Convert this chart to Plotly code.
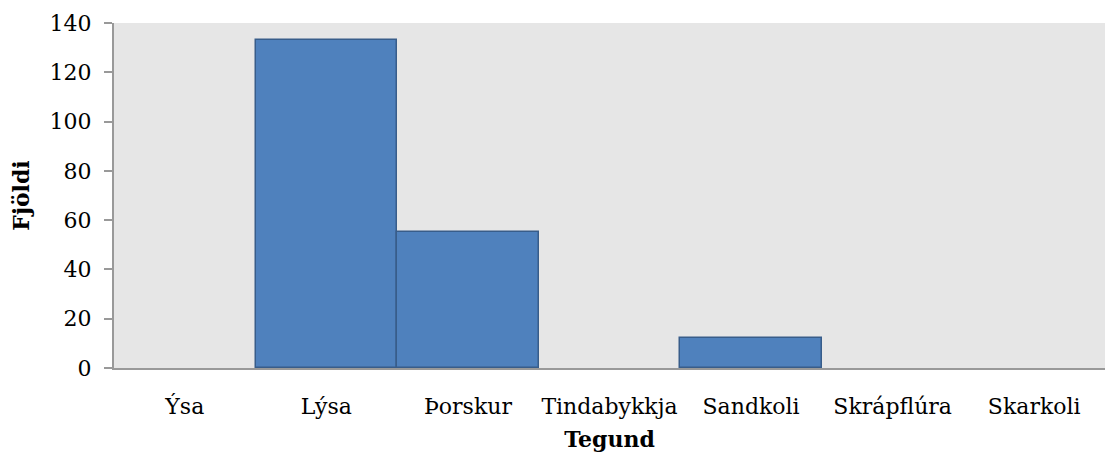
import plotly.graph_objects as go

categories = ["Ýsa", "Lýsa", "Þorskur", "Tindabykkja", "Sandkoli", "Skrápflúra", "Skarkoli"]
values = [0, 133, 55, 0, 12, 0, 0]
y_ticks = [0, 20, 40, 60, 80, 100, 120, 140]

FONT = "DejaVu Serif"

fig = go.Figure(go.Bar(
    x=categories, y=values,
    marker=dict(
        color="#4f81bd",
        line=dict(color="#385d8a", width=[1.5 if v > 0 else 0 for v in values]),
    ),
))

fig.update_layout(
    width=1105, height=456,
    margin=dict(l=114, r=0, t=23, b=88, autoexpand=False),
    paper_bgcolor="white", plot_bgcolor="#e6e6e6",
    bargap=0, showlegend=False,
    font=dict(family=FONT, size=22, color="black"),
)
fig.update_xaxes(
    automargin=False,
    showline=True, linecolor="#999999", linewidth=2,
    showgrid=False, ticks="", ticklabelstandoff=18,
    tickfont=dict(size=22),
    title=dict(text="<b>Tegund</b>", font=dict(size=22), standoff=13),
)
fig.update_yaxes(
    automargin=False,
    range=[0, 140], tickvals=y_ticks,
    showline=True, linecolor="#999999", linewidth=2,
    showgrid=False, zeroline=False,
    ticks="outside", ticklen=8, tickcolor="#999999", tickwidth=2,
    ticklabelstandoff=8,
    tickfont=dict(size=22),
    title=dict(text="<b>Fjöldi</b>", font=dict(size=22), standoff=14),
)

fig.write_html("out.html", config={"displayModeBar": False})

with open("out.html", "r", encoding="utf-8") as f:
    html = f.read()
html = html.replace("<head>", "<head><style>html,body{margin:0;padding:0;overflow:hidden;}</style>", 1)
with open("out.html", "w", encoding="utf-8") as f:
    f.write(html)
